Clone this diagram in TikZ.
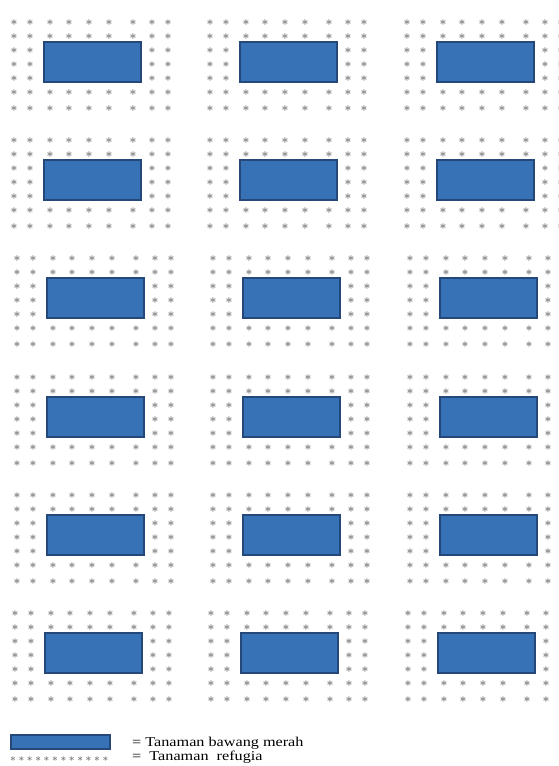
\documentclass[tikz,border=0pt]{standalone}
\usepackage{fontspec}
\setmainfont{Liberation Serif}
\newfontfamily\keyfont[FakeStretch=1.2]{Liberation Serif}
\usetikzlibrary{positioning}

\definecolor{bedfill}{RGB}{56,114,182}
\definecolor{beddraw}{RGB}{36,72,122}

% one plot: bed of shallots ringed by refugia plants
\newcommand{\petak}[3]{%
  \foreach \dx [count=\i] in {-30,-14,6,25,45,65,89,108,124}{
    \foreach \dy [count=\j] in {-22,-8,6,20,34,48,64}{
      \pgfmathtruncatemacro\hide{(\i>2)*(\i<8)*(\j>2)*(\j<6)}
      \ifnum\hide=0
        \node[refugia] (r-#1-\i-\j) at ({#2+\dx},{#3+\dy}) {$\ast$};
      \fi
    }
  }
  \node[bed,anchor=north west] (bed-#1) at ({#2},{#3}) {};
}

\begin{document}
\begin{tikzpicture}[
  x=1pt,y=-1pt,
  bed/.style={draw=beddraw,fill=bedfill,line width=1.3pt,minimum width=97pt,minimum height=40pt,inner sep=0pt,outer sep=0pt},
  refugia/.style={text=black!55,inner sep=0pt,yshift=-2.5pt,font=\boldmath\fontsize{13}{13}\selectfont},
  keystar/.style={refugia,font=\boldmath\fontsize{10}{10}\selectfont},
  legendtext/.style={anchor=west,inner sep=0pt,font=\keyfont\fontsize{13.5}{15}\selectfont}
]
\useasboundingbox (0,0) rectangle (559,766);

\foreach \r/\y/\s in {1/42/0,2/160/0,3/278/3,4/397/3,5/515/3,6/633/1}{
  \foreach \c/\x in {1/44,2/240,3/437}{
    \petak{\r\c}{\x+\s}{\y}
  }
}

% legend
\node[bed,anchor=north west,minimum width=99pt,minimum height=14pt] (key-bed) at (11,735) {};
\foreach \k in {0,...,11}
  \node[keystar] (key-\k) at ({13+\k*8.4},757) {$\ast$};
\node[legendtext] (key-bed-text) at (132,743) {= Tanaman bawang merah};
\node[legendtext] (key-ref-text) at (132,757) {=\ \ Tanaman\ \ refugia};
\end{tikzpicture}
\end{document}
